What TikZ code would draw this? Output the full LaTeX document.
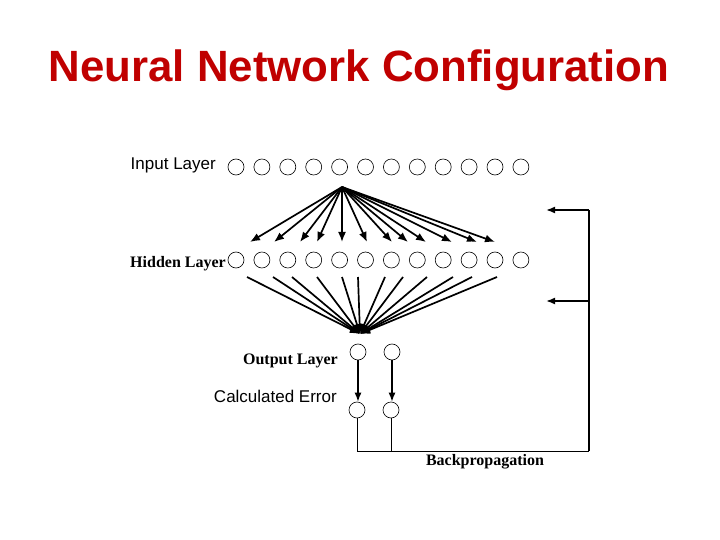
\documentclass[tikz,border=0pt]{standalone}
\usepackage{fontspec}
\setmainfont{Liberation Serif}
\setsansfont{Liberation Sans}
\usetikzlibrary{arrows.meta,positioning,calc}
\definecolor{titlered}{RGB}{192,0,0}

\begin{document}
\begin{tikzpicture}[
    x=1pt, y=-1pt,
    neuron/.style = {circle, draw, line width=0.6pt, minimum size=16pt, inner sep=0pt},
    weight/.style = {-{Latex[length=10pt,width=8pt]}, line width=1.7pt},
    error/.style = {-{Latex[length=9pt,width=7pt]}, line width=1.4pt},
    lbsans/.style = {font=\sffamily\fontsize{17}{20}\selectfont, anchor=east, inner sep=0pt},
    lbserif/.style = {font=\rmfamily\bfseries\fontsize{16}{19}\selectfont, inner sep=0pt}
    ]
    \useasboundingbox (0,0) rectangle (720,540);

    \node[font=\sffamily\bfseries\fontsize{43.8}{50}\selectfont, text=titlered] (title) at (359,70) {Neural Network Configuration};

    % layers
    \foreach \i in {1,...,12} {
        \node[neuron] (in\i) at ({236+25.9*(\i-1)},167) {};
        \node[neuron] (hid\i) at ({236+25.9*(\i-1)},260) {};
    }
    \node[neuron] (out1) at (358,352) {};
    \node[neuron] (out2) at (392,352) {};
    \node[neuron] (err1) at (357,410) {};
    \node[neuron] (err2) at (391,410) {};

    \node[lbsans] (inlabel) at (216,165) {Input Layer};
    \node[lbserif, anchor=east] (hidlabel) at (226,264) {Hidden Layer};
    \node[lbserif, anchor=east] (outlabel) at (338,361) {Output Layer};
    \node[lbsans] (errlabel) at (337,396) {Calculated Error};
    \node[lbserif] (bplabel) at (485,462) {Backpropagation};

    % input -> hidden
    \coordinate (fan) at (342,187);
    \foreach \x [count=\k] in {250,274,300,317,342,367,392,408,426,452,477,495}
        \coordinate (tip\k) at (\x,242);
    \foreach \k in {1,...,12}
        \draw[weight] (fan) -- (tip\k);

    % hidden -> output
    \coordinate (sink) at (360,334);
    \foreach \x [count=\k] in {247,273,292,317,342,358,385,403,427,453,472,497}
        \coordinate (start\k) at (\x,277);
    \foreach \k in {1,...,12}
        \draw[weight] (start\k) -- (sink);

    % output -> error
    \draw[error] (out1.south) -- (out1.south |- err1.north);
    \draw[error] (out2.south) -- (out2.south |- err2.north);

    % backpropagation loop
    \coordinate (corner) at (589,451);
    \coordinate (top) at (589,210);
    \coordinate (mid) at (589,301);
    \coordinate (back1) at (546,210);
    \coordinate (back2) at (546,301);
    \draw[line width=0.8pt] (err1.south) |- (corner);
    \draw[line width=0.8pt] (err2.south) -- (err2.south |- corner);
    \draw[line width=1.1pt] (corner) -- (top);
    \draw[error, line width=1.7pt] (top) -- (back1);
    \draw[error, line width=1.7pt] (mid) -- (back2);
\end{tikzpicture}
\end{document}
